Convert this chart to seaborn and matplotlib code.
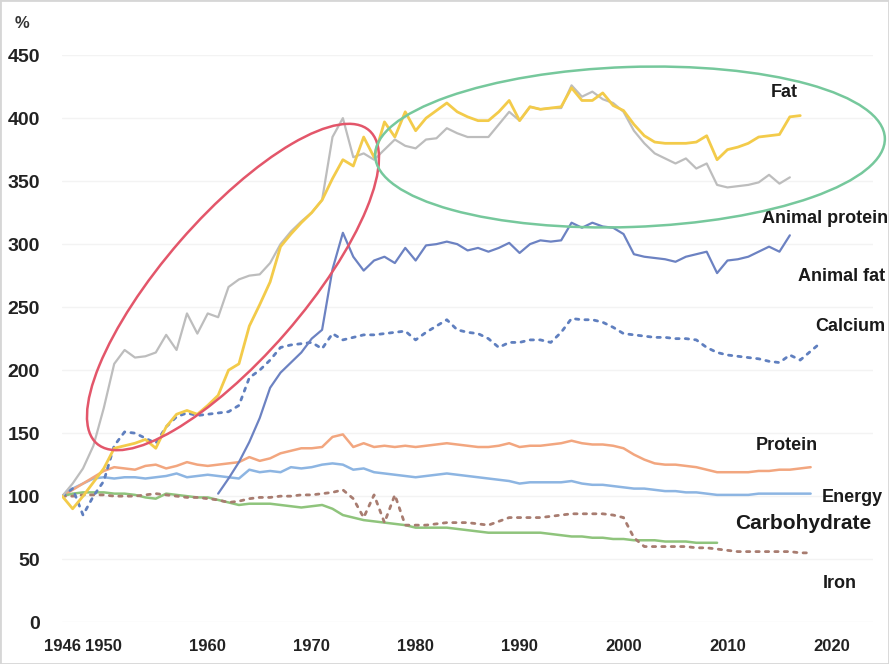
import matplotlib
matplotlib.use("Agg")
import matplotlib.pyplot as plt
import seaborn as sns
import pandas as pd
from matplotlib.patches import Ellipse, Rectangle

# ---- data (index, 1946 = 100) ----
fat_years = list(range(1946, 2018))
fat = [100, 90, 100, 111, 122, 138, 140, 142, 145, 138,
       155, 165, 168, 165, 172, 180, 200, 205, 235, 252,
       270, 298, 308, 317, 325, 335, 352, 367, 362, 385,
       369, 397, 385, 405, 390, 400, 406, 412, 405, 401,
       398, 398, 405, 414, 398, 409, 407, 408, 409, 424,
       414, 414, 420, 410, 406, 395, 386, 381, 380, 380,
       380, 381, 386, 367, 375, 377, 380, 385, 386, 387,
       401, 402]

animal_protein_years = list(range(1946, 2017))
animal_protein = [100, 110, 122, 140, 170, 205, 216, 210, 211, 214,
                  228, 216, 245, 229, 245, 242, 266, 272, 275, 276,
                  285, 300, 310, 318, 325, 335, 385, 400, 369, 372,
                  367, 375, 383, 378, 376, 383, 384, 392, 388, 385,
                  385, 385, 395, 405, 398, 409, 407, 408, 408, 426,
                  417, 421, 415, 412, 405, 390, 380, 372, 368, 364,
                  368, 360, 364, 347, 345, 346, 347, 349, 355, 348,
                  353]

animal_fat_years = list(range(1961, 2017))
animal_fat = [102, 114, 127, 143, 162, 186, 198, 206, 214, 225,
              232, 280, 309, 290, 279, 287, 290, 285, 297, 287,
              299, 300, 302, 300, 295, 297, 294, 297, 301, 293,
              300, 303, 302, 303, 317, 313, 317, 314, 313, 308,
              292, 290, 289, 288, 286, 290, 292, 294, 277, 287,
              288, 290, 294, 298, 294, 307]

calcium_years = list(range(1946, 2020))
calcium = [100, 106, 85, 100, 112, 140, 151, 150, 146, 142,
           155, 163, 166, 164, 165, 166, 167, 172, 194, 200,
           208, 218, 220, 221, 222, 217, 229, 224, 226, 228,
           228, 229, 230, 231, 224, 230, 235, 240, 232, 230,
           229, 225, 218, 222, 222, 224, 224, 222, 230, 241,
           240, 240, 238, 234, 229, 228, 227, 226, 226, 225,
           225, 224, 218, 214, 212, 211, 210, 209, 207, 206,
           212, 208, 215, 222]

protein_years = list(range(1946, 2019))
protein = [100, 105, 110, 115, 120, 123, 122, 121, 124, 125,
           122, 124, 127, 125, 124, 125, 126, 127, 131, 128,
           130, 134, 136, 138, 138, 139, 147, 149, 139, 142,
           139, 140, 139, 140, 139, 140, 141, 142, 141, 140,
           139, 139, 140, 142, 139, 140, 140, 141, 142, 144,
           142, 141, 141, 140, 138, 133, 129, 126, 125, 125,
           124, 123, 121, 119, 119, 119, 119, 120, 120, 121,
           121, 122, 123]

energy_years = list(range(1946, 2019))
energy = [100, 106, 110, 114, 115, 114, 115, 115, 114, 115,
          116, 118, 115, 116, 117, 116, 115, 114, 121, 119,
          120, 119, 123, 122, 123, 125, 126, 125, 121, 122,
          119, 118, 117, 116, 115, 116, 117, 118, 117, 116,
          115, 114, 113, 112, 110, 111, 111, 111, 111, 112,
          110, 109, 109, 108, 107, 106, 106, 105, 104, 104,
          103, 103, 102, 101, 101, 101, 101, 102, 102, 102,
          102, 102, 102]

carb_years = list(range(1946, 2010))
carbohydrate = [100, 102, 103, 103, 103, 102, 102, 101, 99, 98,
                102, 101, 100, 99, 99, 97, 95, 93, 94, 94,
                94, 93, 92, 91, 92, 93, 90, 85, 83, 81,
                80, 79, 78, 77, 75, 75, 75, 75, 74, 73,
                72, 71, 71, 71, 71, 71, 71, 70, 69, 68,
                68, 67, 67, 66, 66, 65, 65, 65, 64, 64,
                64, 63, 63, 63]

iron_years = list(range(1946, 2019))
iron = [100, 100, 101, 101, 101, 100, 100, 100, 101, 102,
        101, 100, 99, 99, 98, 97, 95, 96, 98, 99,
        99, 100, 100, 101, 101, 102, 103, 105, 98, 83,
        101, 79, 101, 77, 77, 77, 78, 79, 79, 79,
        78, 77, 80, 83, 83, 83, 83, 84, 85, 86,
        86, 86, 86, 85, 83, 67, 60, 60, 60, 60,
        60, 59, 59, 58, 57, 56, 56, 56, 56, 56,
        56, 55, 55]

x_ticks = [1946, 1950, 1960, 1970, 1980, 1990, 2000, 2010, 2020]
y_ticks = [0, 50, 100, 150, 200, 250, 300, 350, 400, 450]

sns.set_style("white")
plt.rcParams['font.family'] = ['Liberation Sans', 'DejaVu Sans']

fig = plt.figure(figsize=(8.89, 6.64), dpi=100)
ax = fig.add_axes([0.070, 0.063, 0.912, 0.854])

dot = (0, (1.2, 2.2))
series = [
    (energy_years, energy, '#8db5e2', '-', 1.8),
    (protein_years, protein, '#f2a67f', '-', 1.8),
    (carb_years, carbohydrate, '#8fc47c', '-', 1.8),
    (iron_years, iron, '#a87c70', dot, 2.0),
    (calcium_years, calcium, '#5f7fbf', dot, 2.0),
    (animal_fat_years, animal_fat, '#6c82c2', '-', 1.6),
    (animal_protein_years, animal_protein, '#bdbdbd', '-', 1.6),
    (fat_years, fat, '#f3cb4a', '-', 2.0),
]
for yrs, vals, col, ls, lw in series:
    df = pd.DataFrame({'year': yrs, 'value': vals})
    sns.lineplot(data=df, x='year', y='value', ax=ax, color=col,
                 linestyle=ls, linewidth=lw, dash_capstyle='round')

ax.set_xlim(1946, 2024)
ax.set_ylim(0, 450)
ax.set_xticks(x_ticks)
ax.set_yticks(y_ticks)
ax.set_xlabel('')
ax.set_ylabel('')
ax.grid(axis='y', color='#f3f3f3', linewidth=1)
for s in ax.spines.values():
    s.set_visible(False)
ax.tick_params(axis='x', length=0, labelsize=12, pad=12)
ax.tick_params(axis='y', length=0, labelsize=14, pad=16)
for lab in ax.get_xticklabels() + ax.get_yticklabels():
    lab.set_fontweight('bold')
    lab.set_color('#222222')

fig.text(0.025, 0.965, '%', fontsize=12, fontweight='bold', color='#333333',
         ha='center', va='center')

labels = [
    ('Fat', 2015.5, 420, 13),
    ('Animal protein', 2019.4, 320, 13),
    ('Animal fat', 2021.0, 274, 13),
    ('Calcium', 2021.8, 235, 13),
    ('Protein', 2015.7, 140, 13),
    ('Energy', 2022.0, 99, 13),
    ('Carbohydrate', 2017.3, 78, 15),
    ('Iron', 2020.8, 31, 13),
]
for txt, xv, yv, fs in labels:
    ax.text(xv, yv, txt, fontsize=fs, fontweight='bold', color='#1a1a1a',
            ha='center', va='center', clip_on=False)

# highlight ellipses (figure inches)
red = Ellipse((2.33, 3.77), 4.15, 1.40, angle=49, transform=fig.dpi_scale_trans,
              fill=False, edgecolor='#e3566a', linewidth=1.8, zorder=5)
green = Ellipse((6.30, 5.17), 5.10, 1.60, angle=2, transform=fig.dpi_scale_trans,
                fill=False, edgecolor='#76c89c', linewidth=1.8, zorder=5)
fig.patches.extend([red, green])
fig.patches.append(Rectangle((0, 0), 1, 1, transform=fig.transFigure, fill=False,
                             edgecolor='#d6d6d6', linewidth=2))

fig.savefig('out.png', dpi=100)
